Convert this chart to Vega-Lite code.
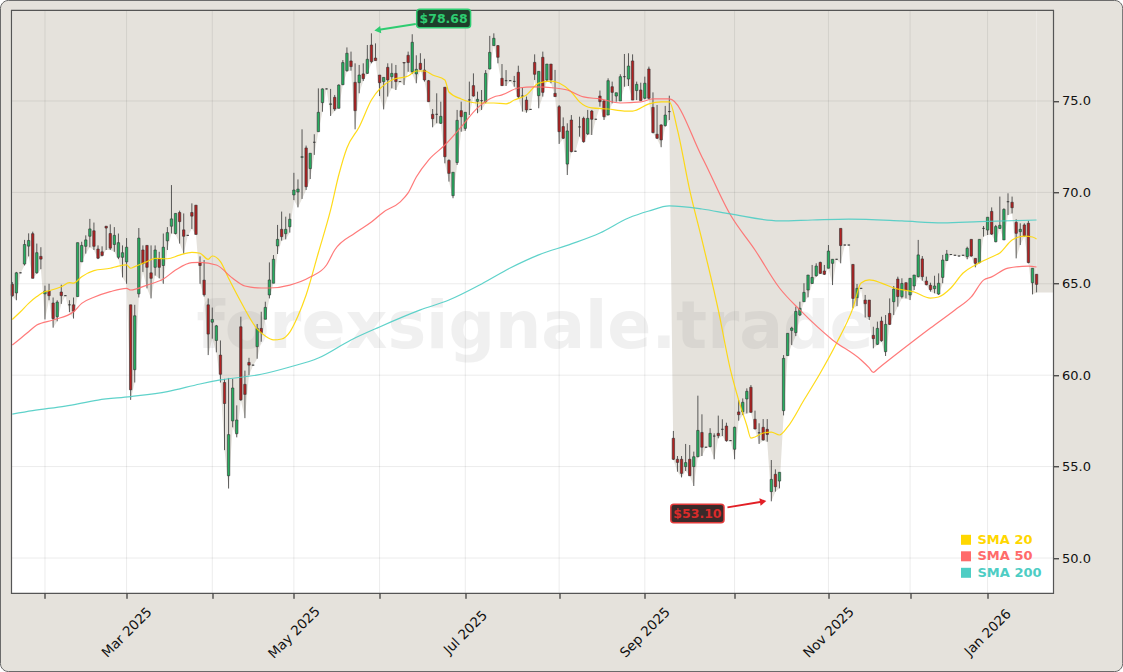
{
  "$schema": "https://vega.github.io/schema/vega-lite/v6.json",
  "width": 1042,
  "height": 583,
  "autosize": "none",
  "padding": {"left": 11.5, "top": 10.3, "right": 69.5, "bottom": 78.7},
  "background": "white",
  "config": {"view": {"stroke": null}, "font": "DejaVu Sans"},
  "datasets": {
    "candles": [
      {"i":0,"o":64.97,"h":65.1,"l":64.3,"c":64.35},{"i":1,"o":64.5,"h":65.65,"l":64.1,"c":65.6},{"i":2,"o":65.6,"h":65.62,"l":65.58,"c":65.6},{"i":3,"o":66.08,"h":67.4,"l":66.0,"c":67.15},{"i":4,"o":67.06,"h":67.76,"l":66.5,"c":67.37},{"i":5,"o":67.74,"h":67.85,"l":65.3,"c":65.3},{"i":6,"o":65.6,"h":67.2,"l":65.55,"c":66.7},{"i":7,"o":66.5,"h":67.0,"l":65.8,"c":66.35},{"i":8,"o":64.45,"h":64.9,"l":63.05,"c":64.6},{"i":9,"o":64.6,"h":65.0,"l":64.1,"c":64.35},
      {"i":10,"o":63.95,"h":64.25,"l":62.6,"c":63.1},{"i":11,"o":63.2,"h":64.1,"l":62.95,"c":64.0},{"i":12,"o":64.55,"h":64.95,"l":63.9,"c":64.35},{"i":13,"o":64.35,"h":64.37,"l":64.33,"c":64.35},{"i":14,"o":63.85,"h":64.1,"l":63.45,"c":63.85},{"i":15,"o":63.85,"h":64.25,"l":63.1,"c":63.5},{"i":16,"o":64.3,"h":67.25,"l":64.3,"c":67.25},{"i":17,"o":66.2,"h":67.3,"l":66.2,"c":67.1},{"i":18,"o":67.05,"h":67.65,"l":66.65,"c":67.4},{"i":19,"o":67.6,"h":68.55,"l":67.0,"c":68.0},
      {"i":20,"o":67.9,"h":68.35,"l":66.85,"c":67.05},{"i":21,"o":66.9,"h":67.1,"l":66.35,"c":66.4},{"i":22,"o":66.75,"h":67.05,"l":66.5,"c":66.55},{"i":23,"o":68.15,"h":68.15,"l":66.85,"c":68.05},{"i":24,"o":67.75,"h":68.25,"l":66.85,"c":66.95},{"i":25,"o":67.15,"h":68.1,"l":66.75,"c":67.65},{"i":26,"o":66.45,"h":67.75,"l":66.35,"c":67.25},{"i":27,"o":66.45,"h":67.1,"l":65.35,"c":66.7},{"i":28,"o":66.2,"h":67.5,"l":65.0,"c":67.0},{"i":29,"o":63.85,"h":63.85,"l":58.65,"c":59.2},
      {"i":30,"o":60.3,"h":63.85,"l":59.6,"c":63.25},{"i":31,"o":64.45,"h":68.05,"l":64.25,"c":67.5},{"i":32,"o":66.85,"h":67.1,"l":65.65,"c":66.1},{"i":33,"o":67.1,"h":67.1,"l":64.75,"c":65.9},{"i":34,"o":65.6,"h":67.1,"l":64.2,"c":65.3},{"i":35,"o":65.9,"h":67.1,"l":65.45,"c":66.85},{"i":36,"o":66.35,"h":66.75,"l":65.3,"c":65.9},{"i":37,"o":66.0,"h":67.75,"l":65.0,"c":67.0},{"i":38,"o":67.35,"h":68.1,"l":66.85,"c":67.8},{"i":39,"o":68.15,"h":70.4,"l":67.75,"c":68.55},
      {"i":40,"o":67.75,"h":68.85,"l":67.7,"c":68.85},{"i":41,"o":68.9,"h":69.0,"l":67.2,"c":68.4},{"i":42,"o":67.95,"h":68.85,"l":66.65,"c":67.6},{"i":43,"o":67.65,"h":67.67,"l":67.63,"c":67.65},{"i":44,"o":68.9,"h":69.4,"l":68.0,"c":68.7},{"i":45,"o":69.3,"h":69.3,"l":67.7,"c":67.7},{"i":46,"o":66.15,"h":66.5,"l":65.0,"c":66.0},{"i":47,"o":65.2,"h":66.3,"l":64.3,"c":64.4},{"i":48,"o":63.85,"h":64.2,"l":61.1,"c":62.25},{"i":49,"o":62.9,"h":63.7,"l":62.0,"c":63.05},
      {"i":50,"o":61.9,"h":62.75,"l":61.25,"c":62.7},{"i":51,"o":61.1,"h":61.9,"l":59.6,"c":60.05},{"i":52,"o":59.6,"h":59.8,"l":55.9,"c":58.45},{"i":53,"o":54.5,"h":59.85,"l":53.8,"c":56.75},{"i":54,"o":57.5,"h":59.8,"l":57.15,"c":59.3},{"i":55,"o":56.8,"h":58.35,"l":56.6,"c":57.55},{"i":56,"o":62.65,"h":63.2,"l":58.6,"c":58.65},{"i":57,"o":59.5,"h":60.25,"l":57.65,"c":58.95},{"i":58,"o":60.7,"h":60.95,"l":60.0,"c":60.55},{"i":59,"o":60.55,"h":60.57,"l":60.53,"c":60.55},
      {"i":60,"o":61.56,"h":62.8,"l":60.9,"c":62.56},{"i":61,"o":62.56,"h":63.47,"l":61.83,"c":62.33},{"i":62,"o":63.06,"h":64.02,"l":63.06,"c":63.71},{"i":63,"o":64.39,"h":66.17,"l":64.2,"c":65.21},{"i":64,"o":65.03,"h":66.57,"l":65.03,"c":66.34},{"i":65,"o":67.07,"h":68.22,"l":66.63,"c":67.43},{"i":66,"o":67.98,"h":68.95,"l":67.36,"c":67.58},{"i":67,"o":67.74,"h":68.67,"l":67.43,"c":67.98},{"i":68,"o":68.12,"h":68.85,"l":67.8,"c":68.53},{"i":69,"o":69.86,"h":71.07,"l":69.58,"c":70.13},
      {"i":70,"o":70.02,"h":70.71,"l":69.18,"c":70.18},{"i":71,"o":71.92,"h":73.45,"l":69.64,"c":71.95},{"i":72,"o":72.43,"h":72.56,"l":70.13,"c":70.31},{"i":73,"o":71.3,"h":72.14,"l":70.73,"c":72.14},{"i":74,"o":72.74,"h":73.18,"l":72.05,"c":72.74},{"i":75,"o":73.32,"h":75.69,"l":73.32,"c":74.38},{"i":76,"o":74.91,"h":75.69,"l":74.41,"c":75.66},{"i":77,"o":75.66,"h":75.68,"l":75.64,"c":75.66},{"i":78,"o":74.82,"h":75.66,"l":74.18,"c":74.84},{"i":79,"o":75.2,"h":75.33,"l":74.45,"c":74.56},
      {"i":80,"o":74.6,"h":75.91,"l":74.6,"c":75.87},{"i":81,"o":75.89,"h":77.24,"l":75.87,"c":77.1},{"i":82,"o":76.66,"h":77.93,"l":76.6,"c":77.61},{"i":83,"o":77.19,"h":77.7,"l":76.66,"c":76.88},{"i":84,"o":76.02,"h":77.06,"l":73.45,"c":74.47},{"i":85,"o":76.0,"h":76.97,"l":75.42,"c":76.42},{"i":86,"o":76.48,"h":77.06,"l":76.09,"c":76.22},{"i":87,"o":76.51,"h":78.06,"l":76.48,"c":77.28},{"i":88,"o":78.06,"h":78.7,"l":77.06,"c":77.15},{"i":89,"o":77.35,"h":78.15,"l":77.21,"c":77.21},
      {"i":90,"o":76.42,"h":76.42,"l":75.27,"c":76.0},{"i":91,"o":76.06,"h":76.29,"l":74.54,"c":76.29},{"i":92,"o":76.84,"h":77.06,"l":75.24,"c":76.15},{"i":93,"o":76.33,"h":77.06,"l":75.69,"c":76.51},{"i":94,"o":76.51,"h":76.97,"l":75.6,"c":76.06},{"i":95,"o":76.06,"h":76.08,"l":76.04,"c":76.06},{"i":96,"o":77.1,"h":77.1,"l":75.87,"c":77.08},{"i":97,"o":77.5,"h":77.7,"l":76.6,"c":77.1},{"i":98,"o":76.6,"h":78.65,"l":76.48,"c":78.21},{"i":99,"o":76.48,"h":77.5,"l":75.97,"c":76.73},
      {"i":100,"o":77.06,"h":77.61,"l":76.69,"c":76.73},{"i":101,"o":76.69,"h":77.31,"l":76.06,"c":76.15},{"i":102,"o":76.11,"h":76.15,"l":74.96,"c":74.96},{"i":103,"o":74.27,"h":74.56,"l":73.56,"c":74.03},{"i":104,"o":74.27,"h":75.42,"l":73.78,"c":74.27},{"i":105,"o":73.78,"h":74.96,"l":73.74,"c":74.16},{"i":106,"o":75.75,"h":75.75,"l":71.59,"c":71.95},{"i":107,"o":71.75,"h":71.81,"l":70.59,"c":71.04},{"i":108,"o":69.82,"h":71.1,"l":69.68,"c":71.1},{"i":109,"o":71.63,"h":74.51,"l":71.5,"c":73.94},
      {"i":110,"o":74.47,"h":74.96,"l":73.32,"c":74.14},{"i":111,"o":73.5,"h":74.38,"l":73.37,"c":74.38},{"i":112,"o":75.06,"h":76.06,"l":74.23,"c":75.06},{"i":113,"o":75.84,"h":76.51,"l":75.24,"c":75.27},{"i":114,"o":74.98,"h":75.51,"l":74.33,"c":75.09},{"i":115,"o":75.02,"h":75.6,"l":74.51,"c":75.02},{"i":116,"o":74.96,"h":76.69,"l":74.87,"c":76.51},{"i":117,"o":76.75,"h":78.56,"l":76.73,"c":77.66},{"i":118,"o":78.03,"h":78.7,"l":78.03,"c":78.43},{"i":119,"o":78.03,"h":78.06,"l":77.06,"c":77.39},
      {"i":120,"o":76.24,"h":77.02,"l":75.82,"c":75.84},{"i":121,"o":76.11,"h":76.69,"l":75.82,"c":76.11},{"i":122,"o":76.11,"h":76.13,"l":76.09,"c":76.11},{"i":123,"o":76.07,"h":76.37,"l":75.78,"c":76.07},{"i":124,"o":76.57,"h":76.93,"l":75.15,"c":75.24},{"i":125,"o":75.27,"h":75.73,"l":74.42,"c":75.27},{"i":126,"o":75.05,"h":75.24,"l":74.36,"c":74.51},{"i":127,"o":74.54,"h":74.56,"l":74.52,"c":74.54},{"i":128,"o":77.11,"h":77.55,"l":76.15,"c":76.46},{"i":129,"o":75.29,"h":76.62,"l":74.6,"c":76.62},
      {"i":130,"o":77.39,"h":77.7,"l":75.24,"c":75.47},{"i":131,"o":76.15,"h":77.02,"l":76.06,"c":77.02},{"i":132,"o":77.02,"h":77.02,"l":75.97,"c":76.15},{"i":133,"o":75.42,"h":76.7,"l":75.24,"c":75.24},{"i":134,"o":74.69,"h":74.78,"l":72.65,"c":73.32},{"i":135,"o":73.6,"h":74.1,"l":72.92,"c":72.96},{"i":136,"o":71.55,"h":73.78,"l":70.95,"c":73.36},{"i":137,"o":73.96,"h":74.23,"l":72.19,"c":72.23},{"i":138,"o":72.25,"h":72.27,"l":72.23,"c":72.25},{"i":139,"o":73.58,"h":74.14,"l":73.05,"c":73.58},
      {"i":140,"o":74.05,"h":74.14,"l":72.72,"c":72.77},{"i":141,"o":73.2,"h":74.51,"l":73.14,"c":74.05},{"i":142,"o":74.45,"h":74.51,"l":73.14,"c":74.0},{"i":143,"o":74.0,"h":74.02,"l":73.98,"c":74.0},{"i":144,"o":75.27,"h":75.57,"l":74.69,"c":74.96},{"i":145,"o":75.0,"h":75.05,"l":73.96,"c":74.14},{"i":146,"o":74.23,"h":76.24,"l":74.23,"c":76.11},{"i":147,"o":75.78,"h":76.06,"l":74.87,"c":75.47},{"i":148,"o":75.27,"h":75.45,"l":74.96,"c":75.45},{"i":149,"o":75.0,"h":76.46,"l":75.0,"c":76.33},
      {"i":150,"o":76.33,"h":77.57,"l":75.78,"c":76.33},{"i":151,"o":76.2,"h":77.61,"l":75.82,"c":76.91},{"i":152,"o":77.19,"h":77.55,"l":75.05,"c":75.05},{"i":153,"o":75.57,"h":76.06,"l":75.05,"c":75.91},{"i":154,"o":75.6,"h":76.0,"l":75.02,"c":75.02},{"i":155,"o":75.15,"h":76.33,"l":75.09,"c":75.97},{"i":156,"o":76.75,"h":76.88,"l":75.09,"c":75.15},{"i":157,"o":74.65,"h":75.47,"l":73.23,"c":73.27},{"i":158,"o":73.18,"h":74.78,"l":72.92,"c":72.96},{"i":159,"o":73.69,"h":73.72,"l":72.47,"c":72.87},
      {"i":160,"o":73.65,"h":74.73,"l":73.6,"c":74.23},{"i":161,"o":74.42,"h":75.29,"l":73.96,"c":74.42},{"i":162,"o":56.55,"h":56.95,"l":55.36,"c":55.4},{"i":163,"o":55.4,"h":55.58,"l":54.72,"c":55.23},{"i":164,"o":55.4,"h":55.58,"l":54.41,"c":54.63},{"i":165,"o":55.0,"h":56.24,"l":54.76,"c":55.22},{"i":166,"o":55.4,"h":56.18,"l":54.5,"c":54.5},{"i":167,"o":55.0,"h":55.82,"l":53.94,"c":55.54},{"i":168,"o":55.54,"h":58.88,"l":55.51,"c":56.98},{"i":169,"o":56.87,"h":57.86,"l":55.58,"c":56.06},
      {"i":170,"o":56.06,"h":56.08,"l":56.04,"c":56.06},{"i":171,"o":56.09,"h":57.1,"l":56.06,"c":56.82},{"i":172,"o":56.67,"h":56.82,"l":55.4,"c":56.67},{"i":173,"o":56.82,"h":57.79,"l":56.55,"c":56.69},{"i":174,"o":57.04,"h":57.59,"l":56.67,"c":57.04},{"i":175,"o":57.22,"h":57.4,"l":56.36,"c":56.42},{"i":176,"o":56.42,"h":56.44,"l":56.4,"c":56.42},{"i":177,"o":55.95,"h":57.19,"l":55.4,"c":57.15},{"i":178,"o":57.99,"h":58.64,"l":57.51,"c":57.84},{"i":179,"o":58.0,"h":58.73,"l":57.82,"c":58.52},
      {"i":180,"o":58.7,"h":59.28,"l":57.91,"c":59.12},{"i":181,"o":59.34,"h":59.46,"l":57.95,"c":57.97},{"i":182,"o":57.59,"h":58.06,"l":57.04,"c":57.06},{"i":183,"o":56.85,"h":57.37,"l":56.24,"c":56.85},{"i":184,"o":57.15,"h":57.6,"l":56.42,"c":56.46},{"i":185,"o":57.04,"h":57.6,"l":56.36,"c":56.76},{"i":186,"o":53.63,"h":55.36,"l":53.1,"c":54.3},{"i":187,"o":54.58,"h":54.85,"l":53.63,"c":53.9},{"i":188,"o":54.21,"h":54.69,"l":53.81,"c":54.69},{"i":189,"o":58.06,"h":61.1,"l":57.8,"c":60.92},
      {"i":190,"o":61.07,"h":62.29,"l":61.07,"c":62.29},{"i":191,"o":62.45,"h":62.65,"l":61.65,"c":62.58},{"i":192,"o":62.33,"h":63.75,"l":62.14,"c":63.49},{"i":193,"o":63.29,"h":64.02,"l":63.24,"c":63.66},{"i":194,"o":64.02,"h":65.03,"l":64.02,"c":64.53},{"i":195,"o":64.66,"h":65.48,"l":64.26,"c":65.48},{"i":196,"o":65.02,"h":66.03,"l":64.99,"c":65.35},{"i":197,"o":65.44,"h":66.12,"l":65.39,"c":65.97},{"i":198,"o":66.17,"h":66.21,"l":65.54,"c":65.57},{"i":199,"o":65.7,"h":66.03,"l":65.48,"c":65.52},
      {"i":200,"o":65.85,"h":67.12,"l":65.85,"c":66.79},{"i":201,"o":66.12,"h":66.34,"l":64.93,"c":66.34},{"i":202,"o":66.34,"h":66.36,"l":66.32,"c":66.34},{"i":203,"o":68.03,"h":68.03,"l":66.12,"c":67.09},{"i":204,"o":67.12,"h":67.14,"l":67.1,"c":67.12},{"i":205,"o":67.12,"h":67.14,"l":67.1,"c":67.12},{"i":206,"o":66.06,"h":66.06,"l":63.66,"c":64.2},{"i":207,"o":64.24,"h":64.99,"l":63.78,"c":64.75},{"i":208,"o":64.75,"h":64.77,"l":64.73,"c":64.75},{"i":209,"o":64.11,"h":64.39,"l":63.16,"c":63.91},
      {"i":210,"o":64.11,"h":64.11,"l":63.02,"c":63.2},{"i":211,"o":62.18,"h":62.65,"l":61.47,"c":62.0},{"i":212,"o":61.69,"h":62.93,"l":61.65,"c":62.56},{"i":213,"o":62.96,"h":63.2,"l":61.83,"c":61.89},{"i":214,"o":61.29,"h":63.29,"l":61.05,"c":62.78},{"i":215,"o":63.38,"h":64.2,"l":62.75,"c":62.78},{"i":216,"o":64.02,"h":64.88,"l":63.29,"c":64.71},{"i":217,"o":65.26,"h":65.39,"l":63.75,"c":64.3},{"i":218,"o":64.3,"h":65.3,"l":64.2,"c":65.02},{"i":219,"o":65.06,"h":65.06,"l":64.2,"c":64.66},
      {"i":220,"o":64.39,"h":65.3,"l":64.11,"c":65.3},{"i":221,"o":64.88,"h":65.48,"l":64.66,"c":65.48},{"i":222,"o":65.39,"h":67.4,"l":65.35,"c":66.58},{"i":223,"o":66.36,"h":66.52,"l":65.17,"c":65.39},{"i":224,"o":65.15,"h":65.39,"l":64.92,"c":64.95},{"i":225,"o":64.92,"h":65.06,"l":64.57,"c":64.68},{"i":226,"o":64.73,"h":65.44,"l":64.48,"c":64.88},{"i":227,"o":64.44,"h":65.57,"l":64.39,"c":65.03},{"i":228,"o":65.35,"h":66.58,"l":65.03,"c":66.3},{"i":229,"o":66.27,"h":66.85,"l":66.25,"c":66.63},
      {"i":230,"o":66.6,"h":66.62,"l":66.58,"c":66.6},{"i":231,"o":66.56,"h":66.58,"l":66.54,"c":66.56},{"i":232,"o":66.52,"h":66.54,"l":66.5,"c":66.52},{"i":233,"o":66.56,"h":66.58,"l":66.54,"c":66.56},{"i":234,"o":66.49,"h":67.03,"l":66.34,"c":66.94},{"i":235,"o":67.43,"h":67.43,"l":66.48,"c":66.52},{"i":236,"o":66.39,"h":66.39,"l":65.9,"c":66.12},{"i":237,"o":66.16,"h":67.43,"l":66.12,"c":67.43},{"i":238,"o":68.03,"h":68.16,"l":67.58,"c":68.03},{"i":239,"o":67.94,"h":68.64,"l":67.67,"c":68.64},
      {"i":240,"o":68.96,"h":69.18,"l":67.67,"c":67.72},{"i":241,"o":67.3,"h":68.22,"l":67.27,"c":68.13},{"i":242,"o":68.03,"h":69.77,"l":68.0,"c":68.2},{"i":243,"o":67.4,"h":69.13,"l":67.4,"c":69.07},{"i":244,"o":69.49,"h":69.95,"l":68.76,"c":69.49},{"i":245,"o":69.46,"h":69.77,"l":68.85,"c":69.16},{"i":246,"o":68.36,"h":68.53,"l":66.39,"c":67.76},{"i":247,"o":67.85,"h":68.31,"l":67.12,"c":67.98},{"i":248,"o":68.22,"h":68.31,"l":67.58,"c":67.63},{"i":249,"o":68.31,"h":68.45,"l":66.12,"c":66.16},
      {"i":250,"o":65.06,"h":65.85,"l":64.42,"c":65.85},{"i":251,"o":65.52,"h":65.52,"l":64.53,"c":64.97}
    ],
    "sma": [
      {"i":0,"s":"SMA 20","v":63.05},{"i":2,"s":"SMA 20","v":63.47},{"i":4,"s":"SMA 20","v":63.93},{"i":6,"s":"SMA 20","v":64.3},{"i":8,"s":"SMA 20","v":64.57},{"i":9,"s":"SMA 20","v":64.62},{"i":12,"s":"SMA 20","v":64.84},{"i":14,"s":"SMA 20","v":65.06},{"i":15,"s":"SMA 20","v":65.04},{"i":17,"s":"SMA 20","v":65.39},{"i":20,"s":"SMA 20","v":65.72},{"i":24,"s":"SMA 20","v":65.85},{"i":26,"s":"SMA 20","v":65.97},{"i":28,"s":"SMA 20","v":66.03},{"i":29,"s":"SMA 20","v":65.85},{"i":30,"s":"SMA 20","v":65.94},{"i":33,"s":"SMA 20","v":66.21},{"i":35,"s":"SMA 20","v":66.39},{"i":38,"s":"SMA 20","v":66.37},{"i":41,"s":"SMA 20","v":66.57},{"i":44,"s":"SMA 20","v":66.72},{"i":46,"s":"SMA 20","v":66.67},{"i":48,"s":"SMA 20","v":66.34},{"i":49,"s":"SMA 20","v":66.52},{"i":51,"s":"SMA 20","v":66.21},{"i":53,"s":"SMA 20","v":65.3},{"i":56,"s":"SMA 20","v":64.02},{"i":60,"s":"SMA 20","v":62.53},{"i":62,"s":"SMA 20","v":62.14},{"i":64,"s":"SMA 20","v":61.93},{"i":66,"s":"SMA 20","v":61.98},{"i":68,"s":"SMA 20","v":62.36},{"i":70,"s":"SMA 20","v":63.24},{"i":72,"s":"SMA 20","v":64.39},{"i":75,"s":"SMA 20","v":66.7},{"i":78,"s":"SMA 20","v":69.04},{"i":80,"s":"SMA 20","v":70.95},{"i":82,"s":"SMA 20","v":72.43},{"i":85,"s":"SMA 20","v":73.58},{"i":88,"s":"SMA 20","v":75.05},{"i":93,"s":"SMA 20","v":76.15},{"i":97,"s":"SMA 20","v":76.37},{"i":99,"s":"SMA 20","v":76.64},{"i":101,"s":"SMA 20","v":76.64},{"i":103,"s":"SMA 20","v":76.42},{"i":106,"s":"SMA 20","v":76.15},{"i":107,"s":"SMA 20","v":75.49},{"i":110,"s":"SMA 20","v":75.11},{"i":114,"s":"SMA 20","v":74.89},{"i":118,"s":"SMA 20","v":74.89},{"i":121,"s":"SMA 20","v":74.84},{"i":123,"s":"SMA 20","v":75.05},{"i":126,"s":"SMA 20","v":75.33},{"i":129,"s":"SMA 20","v":75.98},{"i":132,"s":"SMA 20","v":76.09},{"i":134,"s":"SMA 20","v":75.98},{"i":137,"s":"SMA 20","v":75.49},{"i":139,"s":"SMA 20","v":74.95},{"i":142,"s":"SMA 20","v":74.62},{"i":146,"s":"SMA 20","v":74.56},{"i":150,"s":"SMA 20","v":74.45},{"i":152,"s":"SMA 20","v":74.45},{"i":156,"s":"SMA 20","v":74.84},{"i":159,"s":"SMA 20","v":74.95},{"i":161,"s":"SMA 20","v":74.95},{"i":163,"s":"SMA 20","v":73.42},{"i":166,"s":"SMA 20","v":70.13},{"i":169,"s":"SMA 20","v":67.4},{"i":173,"s":"SMA 20","v":63.57},{"i":176,"s":"SMA 20","v":60.28},{"i":178,"s":"SMA 20","v":58.64},{"i":180,"s":"SMA 20","v":57.25},{"i":181,"s":"SMA 20","v":56.56},{"i":182,"s":"SMA 20","v":56.62},{"i":184,"s":"SMA 20","v":56.84},{"i":186,"s":"SMA 20","v":56.89},{"i":188,"s":"SMA 20","v":56.73},{"i":190,"s":"SMA 20","v":57.17},{"i":194,"s":"SMA 20","v":58.64},{"i":198,"s":"SMA 20","v":60.12},{"i":202,"s":"SMA 20","v":61.76},{"i":206,"s":"SMA 20","v":63.67},{"i":208,"s":"SMA 20","v":65.04},{"i":210,"s":"SMA 20","v":65.21},{"i":213,"s":"SMA 20","v":65.04},{"i":216,"s":"SMA 20","v":64.77},{"i":221,"s":"SMA 20","v":64.55},{"i":225,"s":"SMA 20","v":64.22},{"i":227,"s":"SMA 20","v":64.28},{"i":230,"s":"SMA 20","v":64.77},{"i":233,"s":"SMA 20","v":65.59},{"i":236,"s":"SMA 20","v":66.03},{"i":240,"s":"SMA 20","v":66.47},{"i":242,"s":"SMA 20","v":66.69},{"i":245,"s":"SMA 20","v":67.4},{"i":248,"s":"SMA 20","v":67.61},{"i":250,"s":"SMA 20","v":67.56},{"i":251,"s":"SMA 20","v":67.45},
      {"i":0,"s":"SMA 50","v":61.65},{"i":2,"s":"SMA 50","v":62.01},{"i":4,"s":"SMA 50","v":62.38},{"i":6,"s":"SMA 50","v":62.74},{"i":10,"s":"SMA 50","v":63.02},{"i":15,"s":"SMA 50","v":63.47},{"i":17,"s":"SMA 50","v":63.93},{"i":20,"s":"SMA 50","v":64.26},{"i":24,"s":"SMA 50","v":64.57},{"i":28,"s":"SMA 50","v":64.75},{"i":29,"s":"SMA 50","v":64.66},{"i":33,"s":"SMA 50","v":64.93},{"i":37,"s":"SMA 50","v":65.26},{"i":40,"s":"SMA 50","v":65.75},{"i":44,"s":"SMA 50","v":66.16},{"i":46,"s":"SMA 50","v":66.17},{"i":50,"s":"SMA 50","v":66.03},{"i":54,"s":"SMA 50","v":65.3},{"i":57,"s":"SMA 50","v":64.88},{"i":61,"s":"SMA 50","v":64.77},{"i":63,"s":"SMA 50","v":64.77},{"i":68,"s":"SMA 50","v":64.93},{"i":73,"s":"SMA 50","v":65.37},{"i":77,"s":"SMA 50","v":66.03},{"i":79,"s":"SMA 50","v":66.85},{"i":84,"s":"SMA 50","v":67.78},{"i":88,"s":"SMA 50","v":68.38},{"i":91,"s":"SMA 50","v":68.93},{"i":95,"s":"SMA 50","v":69.47},{"i":97,"s":"SMA 50","v":69.97},{"i":99,"s":"SMA 50","v":70.84},{"i":102,"s":"SMA 50","v":71.77},{"i":106,"s":"SMA 50","v":72.59},{"i":110,"s":"SMA 50","v":73.58},{"i":114,"s":"SMA 50","v":74.62},{"i":118,"s":"SMA 50","v":75.22},{"i":120,"s":"SMA 50","v":75.33},{"i":124,"s":"SMA 50","v":75.71},{"i":128,"s":"SMA 50","v":75.77},{"i":133,"s":"SMA 50","v":75.71},{"i":136,"s":"SMA 50","v":75.6},{"i":140,"s":"SMA 50","v":75.22},{"i":144,"s":"SMA 50","v":75.11},{"i":149,"s":"SMA 50","v":74.89},{"i":154,"s":"SMA 50","v":74.95},{"i":157,"s":"SMA 50","v":75.11},{"i":161,"s":"SMA 50","v":75.11},{"i":169,"s":"SMA 50","v":71.94},{"i":176,"s":"SMA 50","v":68.76},{"i":182,"s":"SMA 50","v":66.85},{"i":188,"s":"SMA 50","v":64.77},{"i":193,"s":"SMA 50","v":63.57},{"i":201,"s":"SMA 50","v":61.93},{"i":208,"s":"SMA 50","v":60.83},{"i":210,"s":"SMA 50","v":60.4},{"i":211,"s":"SMA 50","v":60.15},{"i":212,"s":"SMA 50","v":60.33},{"i":217,"s":"SMA 50","v":61.21},{"i":225,"s":"SMA 50","v":62.58},{"i":231,"s":"SMA 50","v":63.57},{"i":235,"s":"SMA 50","v":64.28},{"i":238,"s":"SMA 50","v":65.2},{"i":240,"s":"SMA 50","v":65.38},{"i":244,"s":"SMA 50","v":65.86},{"i":249,"s":"SMA 50","v":65.97},{"i":251,"s":"SMA 50","v":65.92},
      {"i":0,"s":"SMA 200","v":57.87},{"i":5,"s":"SMA 200","v":58.06},{"i":13,"s":"SMA 200","v":58.31},{"i":21,"s":"SMA 200","v":58.64},{"i":29,"s":"SMA 200","v":58.83},{"i":38,"s":"SMA 200","v":59.1},{"i":46,"s":"SMA 200","v":59.52},{"i":51,"s":"SMA 200","v":59.74},{"i":61,"s":"SMA 200","v":60.05},{"i":68,"s":"SMA 200","v":60.45},{"i":75,"s":"SMA 200","v":60.94},{"i":83,"s":"SMA 200","v":61.93},{"i":90,"s":"SMA 200","v":62.64},{"i":100,"s":"SMA 200","v":63.57},{"i":107,"s":"SMA 200","v":64.11},{"i":115,"s":"SMA 200","v":64.99},{"i":122,"s":"SMA 200","v":65.86},{"i":129,"s":"SMA 200","v":66.58},{"i":137,"s":"SMA 200","v":67.18},{"i":144,"s":"SMA 200","v":67.78},{"i":151,"s":"SMA 200","v":68.6},{"i":156,"s":"SMA 200","v":68.98},{"i":161,"s":"SMA 200","v":69.26},{"i":169,"s":"SMA 200","v":69.09},{"i":176,"s":"SMA 200","v":68.82},{"i":188,"s":"SMA 200","v":68.44},{"i":196,"s":"SMA 200","v":68.49},{"i":205,"s":"SMA 200","v":68.54},{"i":218,"s":"SMA 200","v":68.44},{"i":228,"s":"SMA 200","v":68.33},{"i":237,"s":"SMA 200","v":68.4},{"i":251,"s":"SMA 200","v":68.49}
    ]
  },
  "layer": [
    {
      "data": {"values": [{}]},
      "mark": {"type": "rect", "fill": "#e5e2dc", "stroke": "#666666", "strokeWidth": 1, "cornerRadius": 8, "clip": false},
      "encoding": {
        "x": {
          "datum": -2.9,
          "type": "quantitative",
          "scale": {"domain": [-0.2, 255.15], "nice": false, "zero": false, "padding": 0},
          "axis": {
            "title": null, "grid": false, "domain": false, "zindex": 1,
            "values": [8, 28, 49, 69, 90, 111, 134, 155, 177, 200, 220, 239],
            "labelExpr": "datum.value == 28 ? 'Mar 2025' : datum.value == 69 ? 'May 2025' : datum.value == 111 ? 'Jul 2025' : datum.value == 155 ? 'Sep 2025' : datum.value == 200 ? 'Nov 2025' : datum.value == 239 ? 'Jan 2026' : ''",
            "labelAngle": -45, "labelAlign": "center", "labelBaseline": "middle", "labelFontSize": 13.5, "labelColor": "#111111",
            "labelFont": "DejaVu Sans", "labelOverlap": false, "labelPadding": 34, "tickSize": 5, "tickColor": "#111111", "tickWidth": 1
          }
        },
        "x2": {"datum": 272.1},
        "y": {
          "datum": 80.498,
          "type": "quantitative",
          "scale": {"domain": [48.07, 79.96], "nice": false, "zero": false},
          "axis": {
            "title": null, "orient": "right", "grid": false, "domain": false, "zindex": 1,
            "values": [50, 55, 60, 65, 70, 75], "format": ".1f",
            "labelFontSize": 13, "labelColor": "#111111", "labelFont": "DejaVu Sans", "labelPadding": 3,
            "tickSize": 5, "tickColor": "#111111", "tickWidth": 1
          }
        },
        "y2": {"datum": 43.79}
      }
    },
    {
      "data": {"values": [{}]},
      "mark": {"type": "rect", "fill": "white"},
      "encoding": {
        "x": {"datum": -0.2, "type": "quantitative"},
        "x2": {"datum": 255.15},
        "y": {"datum": 79.96, "type": "quantitative"},
        "y2": {"datum": 48.07}
      }
    },
    {
      "data": {"name": "candles"},
      "mark": {"type": "area", "color": "#e5e2dc", "orient": "vertical", "clip": true},
      "encoding": {
        "x": {"field": "i", "type": "quantitative"},
        "y": {"field": "l", "type": "quantitative"},
        "y2": {"datum": 79.96}
      }
    },
    {
      "data": {"values": [{"i": 251, "l": 64.53}, {"i": 255.15, "l": 64.53}]},
      "mark": {"type": "area", "color": "#e5e2dc", "orient": "vertical", "clip": true},
      "encoding": {
        "x": {"field": "i", "type": "quantitative"},
        "y": {"field": "l", "type": "quantitative"},
        "y2": {"datum": 79.96}
      }
    },
    {
      "data": {"values": [{"t": 8}, {"t": 28}, {"t": 49}, {"t": 69}, {"t": 90}, {"t": 111}, {"t": 134}, {"t": 155}, {"t": 177}, {"t": 200}, {"t": 220}, {"t": 239}]},
      "mark": {"type": "rule", "color": "#000000", "opacity": 0.09, "strokeWidth": 0.9},
      "encoding": {"x": {"field": "t", "type": "quantitative"}}
    },
    {
      "data": {"values": [{"v": 50}, {"v": 55}, {"v": 60}, {"v": 65}, {"v": 70}, {"v": 75}]},
      "mark": {"type": "rule", "color": "#000000", "opacity": 0.09, "strokeWidth": 0.9},
      "encoding": {"y": {"field": "v", "type": "quantitative"}}
    },
    {
      "data": {"values": [{"w": "forexsignale.trade"}]},
      "mark": {"type": "text", "font": "DejaVu Sans", "fontWeight": "bold", "fontSize": 65, "color": "#808080", "opacity": 0.11, "align": "center", "baseline": "middle"},
      "encoding": {
        "text": {"field": "w"},
        "x": {"datum": 128.1, "type": "quantitative"},
        "y": {"datum": 62.6, "type": "quantitative"}
      }
    },
    {
      "data": {"name": "candles"},
      "mark": {"type": "rule", "color": "#333333", "strokeWidth": 0.8},
      "encoding": {
        "x": {"field": "i", "type": "quantitative"},
        "y": {"field": "h", "type": "quantitative"},
        "y2": {"field": "l"}
      }
    },
    {
      "data": {"name": "candles"},
      "mark": {"type": "bar", "size": 2.4, "stroke": "#333333", "strokeWidth": 0.6, "orient": "vertical"},
      "encoding": {
        "x": {"field": "i", "type": "quantitative"},
        "y": {"field": "o", "type": "quantitative"},
        "y2": {"field": "c"},
        "fill": {"condition": {"test": "datum.c >= datum.o", "value": "#27ae60"}, "value": "#b22222"}
      }
    },
    {
      "data": {"name": "sma"},
      "mark": {"type": "line", "strokeWidth": 1.2, "opacity": 0.9, "interpolate": "monotone"},
      "encoding": {
        "x": {"field": "i", "type": "quantitative"},
        "y": {"field": "v", "type": "quantitative"},
        "color": {
          "field": "s",
          "type": "nominal",
          "scale": {"domain": ["SMA 20", "SMA 50", "SMA 200"], "range": ["#ffd700", "#ff6b6b", "#4ecdc4"]},
          "legend": {
            "title": null, "orient": "none", "legendX": 948, "legendY": 523,
            "symbolType": "square", "symbolSize": 100, "symbolStrokeWidth": 0, "symbolOpacity": 1, "rowPadding": 2.5,
            "labelFont": "DejaVu Sans", "labelFontWeight": "bold", "labelFontSize": 13, "labelOffset": 5,
            "encoding": {
              "symbols": {"fill": {"condition": [{"test": "datum.value == 'SMA 20'", "value": "#ffd700"}, {"test": "datum.value == 'SMA 50'", "value": "#ff6b6b"}], "value": "#4ecdc4"}},
              "labels": {"fill": {"condition": [{"test": "datum.value == 'SMA 20'", "value": "#ffd700"}, {"test": "datum.value == 'SMA 50'", "value": "#ff6b6b"}], "value": "#4ecdc4"}}
            }
          }
        }
      }
    },
    {
      "data": {"values": [{}]},
      "mark": {"type": "rect", "fill": null, "stroke": "#555555", "strokeWidth": 1.2},
      "encoding": {
        "x": {"datum": -0.2, "type": "quantitative"},
        "x2": {"datum": 255.15},
        "y": {"datum": 79.96, "type": "quantitative"},
        "y2": {"datum": 48.07}
      }
    },
    {
      "data": {"values": [{}]},
      "mark": {"type": "rule", "color": "#2ecc71", "strokeWidth": 2, "clip": false},
      "encoding": {
        "x": {"datum": 98.87, "type": "quantitative"},
        "x2": {"datum": 89.5},
        "y": {"datum": 79.21, "type": "quantitative"},
        "y2": {"datum": 78.88}
      }
    },
    {
      "data": {"values": [{}]},
      "mark": {"type": "point", "shape": "triangle-left", "filled": true, "color": "#2ecc71", "size": 55, "opacity": 1, "angle": -9},
      "encoding": {
        "x": {"datum": 89.5, "type": "quantitative"},
        "y": {"datum": 78.88, "type": "quantitative"}
      }
    },
    {
      "data": {"values": [{}]},
      "mark": {"type": "rect", "fill": "#1e3d2b", "stroke": "#2ecc71", "strokeWidth": 1.5, "cornerRadius": 3, "clip": false},
      "encoding": {
        "x": {"datum": 99.1, "type": "quantitative"},
        "x2": {"datum": 112.3},
        "y": {"datum": 80.02, "type": "quantitative"},
        "y2": {"datum": 79.01}
      }
    },
    {
      "data": {"values": [{"w": "$78.68"}]},
      "mark": {"type": "text", "font": "DejaVu Sans", "fontWeight": "bold", "fontSize": 12.5, "color": "#2ecc71", "align": "center", "baseline": "middle"},
      "encoding": {
        "text": {"field": "w"},
        "x": {"datum": 105.7, "type": "quantitative"},
        "y": {"datum": 79.5, "type": "quantitative"}
      }
    },
    {
      "data": {"values": [{}]},
      "mark": {"type": "rule", "color": "#e21f26", "strokeWidth": 2},
      "encoding": {
        "x": {"datum": 175.25, "type": "quantitative"},
        "x2": {"datum": 184},
        "y": {"datum": 52.77, "type": "quantitative"},
        "y2": {"datum": 53.09}
      }
    },
    {
      "data": {"values": [{}]},
      "mark": {"type": "point", "shape": "triangle-right", "filled": true, "color": "#e21f26", "size": 55, "opacity": 1, "angle": -9},
      "encoding": {
        "x": {"datum": 184, "type": "quantitative"},
        "y": {"datum": 53.09, "type": "quantitative"}
      }
    },
    {
      "data": {"values": [{}]},
      "mark": {"type": "rect", "fill": "#3a2a2a", "stroke": "#e23a3a", "strokeWidth": 1.5, "cornerRadius": 3},
      "encoding": {
        "x": {"datum": 161.37, "type": "quantitative"},
        "x2": {"datum": 174.4},
        "y": {"datum": 52.94, "type": "quantitative"},
        "y2": {"datum": 51.93}
      }
    },
    {
      "data": {"values": [{"w": "$53.10"}]},
      "mark": {"type": "text", "font": "DejaVu Sans", "fontWeight": "bold", "fontSize": 12.5, "color": "#d92b2b", "align": "center", "baseline": "middle"},
      "encoding": {
        "text": {"field": "w"},
        "x": {"datum": 167.9, "type": "quantitative"},
        "y": {"datum": 52.43, "type": "quantitative"}
      }
    }
  ]
}
